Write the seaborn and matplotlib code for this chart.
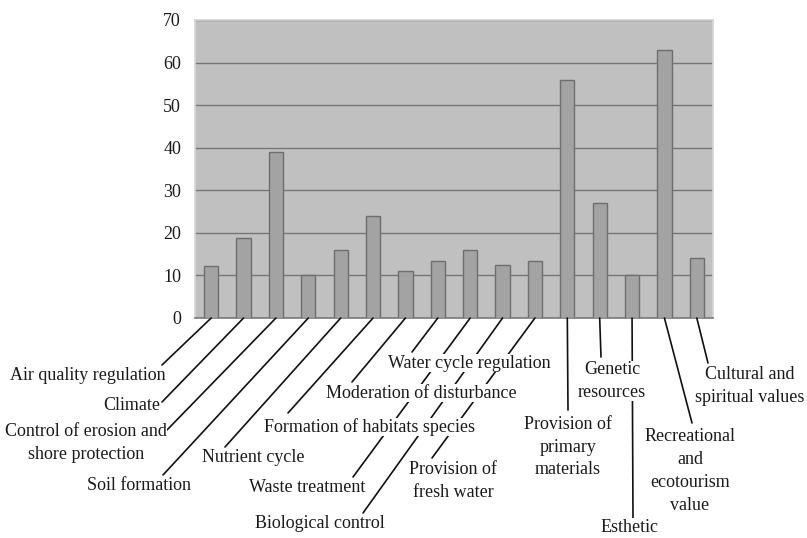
import matplotlib
matplotlib.use("Agg")
import matplotlib.pyplot as plt
import pandas as pd
import seaborn as sns
from matplotlib.patches import ConnectionPatch

# ecosystem services, in bar order (left to right)
services = [
    "Air quality regulation",
    "Climate",
    "Control of erosion and\nshore protection",
    "Soil formation",
    "Nutrient cycle",
    "Formation of habitats species",
    "Moderation of disturbance",
    "Water cycle regulation",
    "Waste treatment",
    "Biological control",
    "Provision of\nfresh water",
    "Provision of\nprimary\nmaterials",
    "Genetic\nresources",
    "Esthetic",
    "Recreational\nand\necotourism\nvalue",
    "Cultural and\nspiritual values",
]
values = [12.3, 18.9, 39.1, 10.1, 16.0, 24.0, 11.0, 13.3, 16.0, 12.4, 13.3, 56.0, 27.1, 10.1, 62.9, 14.2]
y_ticks = [0, 10, 20, 30, 40, 50, 60, 70]

# label placement (pixels from top-left): text anchor x, y, alignment, leader end x, y
label_pos = [
    (166, 376, "right", 162, 365),
    (160, 405, "right", 162, 402),
    (86, 443, "center", 167, 430),
    (139, 485, "center", 163, 475),
    (253, 457, "center", 225, 447),
    (370, 427, "center", 288, 413),
    (421, 393, "center", 352, 382),
    (469, 363, "center", 412, 352),
    (307, 487, "center", 353, 477),
    (320, 523, "center", 363, 513),
    (453, 481, "center", 432, 458),
    (568, 447, "center", 568, 410),
    (612, 381, "center", 601, 357),
    (630, 527, "center", 633, 518),
    (690, 471, "center", 692, 423),
    (750, 386, "center", 708, 363),
]

W, H = 807, 538
df = pd.DataFrame({"service": services, "value": values})

sns.set_style("white")
plt.rcParams["font.family"] = ["Liberation Serif", "DejaVu Serif"]

fig = plt.figure(figsize=(W / 100, H / 100), dpi=100)
ax = fig.add_axes([195 / W, 1 - 318 / H, (713 - 195) / W, (318 - 20) / H])
ax.set_facecolor("#c0c0c0")

sns.barplot(data=df, x="service", y="value", ax=ax, color="#a3a3a3", saturation=1,
            width=0.44, edgecolor="#6e6e6e", linewidth=1.0, zorder=3)

ax.set_ylim(0, 70)
ax.set_xlim(-0.5, len(services) - 0.5)
ax.set_yticks(y_ticks)
ax.set_yticklabels([str(t) for t in y_ticks], fontsize=13, color="#1a1a1a")
ax.yaxis.grid(True, color="#767676", linewidth=1.0, zorder=1)
ax.set_axisbelow(True)
ax.set_xlabel("")
ax.set_ylabel("")

# category boundaries as tick marks below the axis
ax.set_xticks([i - 0.5 for i in range(len(services) + 1)])
ax.set_xticklabels([])
ax.tick_params(axis="x", direction="out", length=5, color="#8a8a8a", width=1)
ax.tick_params(axis="y", direction="out", length=5, color="#8a8a8a", width=1, pad=5)

for side in ["top", "right", "left"]:
    ax.spines[side].set_color("#d6d6d6")
    ax.spines[side].set_linewidth(1.2)
ax.spines["bottom"].set_color("#7a7a7a")
ax.spines["bottom"].set_linewidth(1.2)

for i, (name, (tx, ty, ha, lx, ly)) in enumerate(zip(services, label_pos)):
    con = ConnectionPatch(xyA=(i, 0), coordsA=ax.transData,
                          xyB=(lx, H - ly), coordsB="figure pixels",
                          color="#111111", linewidth=1.2, zorder=4)
    fig.add_artist(con)
    fig.text(tx / W, 1 - ty / H, name, ha=ha, va="center", multialignment="center",
             fontsize=13, color="#1a1a1a", linespacing=1.45, zorder=6,
             bbox={"facecolor": "white", "edgecolor": "none", "pad": 0.3})

fig.savefig("out.png", dpi=100)
plt.close(fig)
